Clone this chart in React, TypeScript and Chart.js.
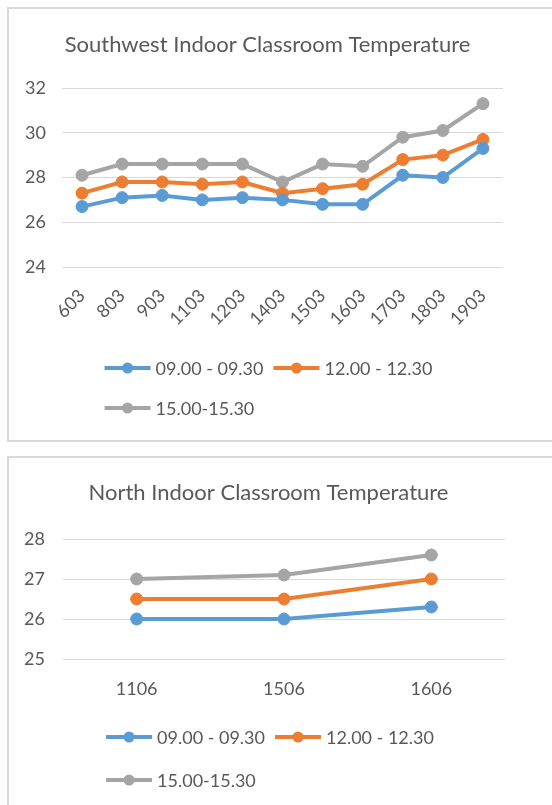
import React, { useEffect, useRef } from "react";
import { Chart, registerables } from "chart.js";

Chart.register(...registerables);

const FONT = "Lato, 'Open Sans', sans-serif";
const TEXT_COLOR = "#595959";
const GRID_COLOR = "#D9D9D9";

// ---- Data ----
const seriesLabels = ["09.00 - 09.30", "12.00 - 12.30", "15.00-15.30"];
const seriesColors = ["#5B9BD5", "#ED7D31", "#A5A5A5"];

const swTitle = "Southwest Indoor Classroom Temperature";
const swCategories = ["603", "803", "903", "1103", "1203", "1403", "1503", "1603", "1703", "1803", "1903"];
const swMorning = [26.7, 27.1, 27.2, 27.0, 27.1, 27.0, 26.8, 26.8, 28.1, 28.0, 29.3];
const swNoon = [27.3, 27.8, 27.8, 27.7, 27.8, 27.3, 27.5, 27.7, 28.8, 29.0, 29.7];
const swAfternoon = [28.1, 28.6, 28.6, 28.6, 28.6, 27.8, 28.6, 28.5, 29.8, 30.1, 31.3];
const swYMin = 24;
const swYMax = 32;
const swYStep = 2;

const nTitle = "North Indoor Classroom Temperature";
const nCategories = ["1106", "1506", "1606"];
const nMorning = [26.0, 26.0, 26.3];
const nNoon = [26.5, 26.5, 27.0];
const nAfternoon = [27.0, 27.1, 27.6];
const nYMin = 25;
const nYMax = 28;
const nYStep = 1;

function makeLegendPlugin(rowYs: number[], titleShift: number) {
  return {
    id: "excelLegend",
    afterLayout(chart: any) {
      const t = chart.titleBlock;
      if (t) {
        t.left += titleShift;
        t.right += titleShift;
      }
    },
    afterDraw(chart: any) {
      const ctx = chart.ctx as CanvasRenderingContext2D;
      const area = chart.chartArea;
      ctx.save();
      ctx.font = `18px ${FONT}`;
      const lineLen = 46;
      const textGap = 5;
      const itemGap = 10;
      const items = chart.data.datasets.map((ds: any) => ({
        label: ds.label as string,
        color: ds.borderColor as string,
        w: lineLen + textGap + ctx.measureText(ds.label).width,
      }));
      const maxW = area.right - area.left;
      const rows: { items: any[]; w: number }[] = [];
      let cur: any[] = [];
      let curW = 0;
      items.forEach((it: any) => {
        const add = cur.length ? itemGap + it.w : it.w;
        if (cur.length && curW + add > maxW) {
          rows.push({ items: cur, w: curW });
          cur = [it];
          curW = it.w;
        } else {
          cur.push(it);
          curW += add;
        }
      });
      if (cur.length) rows.push({ items: cur, w: curW });
      const center = (area.left + area.right) / 2 - 14;
      const left = center - rows[0].w / 2;
      rows.forEach((row, r) => {
        let x = left;
        const y = rowYs[r];
        row.items.forEach((it: any) => {
          ctx.strokeStyle = it.color;
          ctx.lineWidth = 4;
          ctx.lineCap = "butt";
          ctx.beginPath();
          ctx.moveTo(x, y);
          ctx.lineTo(x + lineLen, y);
          ctx.stroke();
          ctx.fillStyle = it.color;
          ctx.beginPath();
          ctx.arc(x + lineLen / 2, y, 5.5, 0, Math.PI * 2);
          ctx.fill();
          ctx.fillStyle = TEXT_COLOR;
          ctx.textBaseline = "middle";
          ctx.textAlign = "left";
          ctx.fillText(it.label, x + lineLen + textGap, y + 1);
          x += it.w + itemGap;
        });
      });
      ctx.restore();
    },
  };
}

type ChartProps = {
  width: number;
  height: number;
  left: number;
  top: number;
  title: string;
  categories: string[];
  series: number[][];
  yMin: number;
  yMax: number;
  yStep: number;
  rotation: number;
  padRight: number;
  padBottom: number;
  titleTop: number;
  titleBottom: number;
  titleShift: number;
  yAxisWidth: number;
  yPadding: number;
  xAxisHeight: number;
  xPadding: number;
  legendRows: number[];
};

function LineChart(p: ChartProps) {
  const ref = useRef<HTMLCanvasElement | null>(null);
  useEffect(() => {
    if (!ref.current) return;
    const chart = new Chart(ref.current, {
      type: "line",
      data: {
        labels: p.categories,
        datasets: p.series.map((vals, i) => ({
          label: seriesLabels[i],
          data: vals,
          borderColor: seriesColors[i],
          backgroundColor: seriesColors[i],
          pointBackgroundColor: seriesColors[i],
          pointBorderColor: seriesColors[i],
          borderWidth: 4,
          pointRadius: 6,
          pointBorderWidth: 1,
          tension: 0,
          fill: false,
        })),
      },
      options: {
        responsive: false,
        animation: false,
        devicePixelRatio: 1,
        layout: { padding: { left: 0, right: p.padRight, top: 0, bottom: p.padBottom } },
        plugins: {
          legend: { display: false },
          tooltip: { enabled: false },
          title: {
            display: true,
            text: p.title,
            color: TEXT_COLOR,
            font: { family: FONT, size: 22, weight: "normal" as any, lineHeight: 1.2 },
            padding: { top: p.titleTop, bottom: p.titleBottom },
          },
        },
        scales: {
          x: {
            offset: true,
            grid: { display: false, drawTicks: false },
            border: { display: false },
            ticks: {
              color: TEXT_COLOR,
              font: { family: FONT, size: 18 },
              padding: p.xPadding,
              minRotation: p.rotation,
              maxRotation: p.rotation,
              autoSkip: false,
            },
            afterFit: (s: any) => {
              s.height = p.xAxisHeight;
            },
          },
          y: {
            min: p.yMin,
            max: p.yMax,
            ticks: {
              stepSize: p.yStep,
              color: TEXT_COLOR,
              font: { family: FONT, size: 18 },
              padding: p.yPadding,
            },
            grid: { color: GRID_COLOR, lineWidth: 1, drawTicks: false },
            border: { display: false },
            afterFit: (s: any) => {
              s.width = p.yAxisWidth;
            },
          },
        },
      },
      plugins: [makeLegendPlugin(p.legendRows, p.titleShift)],
    });
    return () => chart.destroy();
  }, []);
  return (
    <canvas
      ref={ref}
      width={p.width}
      height={p.height}
      style={{ position: "absolute", left: p.left, top: p.top, width: p.width, height: p.height }}
    />
  );
}

export default function App() {
  return (
    <div
      style={{
        position: "fixed",
        left: 0,
        top: 0,
        width: 552,
        height: 805,
        overflow: "hidden",
        background: "#ffffff",
      }}
    >
      <div
        style={{
          position: "absolute",
          left: 7,
          top: 7,
          width: 600,
          height: 435,
          border: `2px solid ${GRID_COLOR}`,
          boxSizing: "border-box",
        }}
      />
      <LineChart
        width={543}
        height={431}
        left={9}
        top={9}
        title={swTitle}
        categories={swCategories}
        series={[swMorning, swNoon, swAfternoon]}
        yMin={swYMin}
        yMax={swYMax}
        yStep={swYStep}
        rotation={45}
        padRight={49}
        padBottom={113}
        titleTop={22.8}
        titleBottom={29.8}
        titleShift={11.5}
        yAxisWidth={53}
        yPadding={16}
        xAxisHeight={60}
        xPadding={18}
        legendRows={[359, 399]}
      />
      <div
        style={{
          position: "absolute",
          left: 7,
          top: 456,
          width: 600,
          height: 400,
          border: `2px solid ${GRID_COLOR}`,
          boxSizing: "border-box",
        }}
      />
      <LineChart
        width={543}
        height={347}
        left={9}
        top={458}
        title={nTitle}
        categories={nCategories}
        series={[nMorning, nNoon, nAfternoon]}
        yMin={nYMin}
        yMax={nYMax}
        yStep={nYStep}
        rotation={0}
        padRight={47}
        padBottom={96}
        titleTop={21.8}
        titleBottom={32.8}
        titleShift={11.5}
        yAxisWidth={54}
        yPadding={18}
        xAxisHeight={50}
        xPadding={19}
        legendRows={[279, 322]}
      />
    </div>
  );
}
